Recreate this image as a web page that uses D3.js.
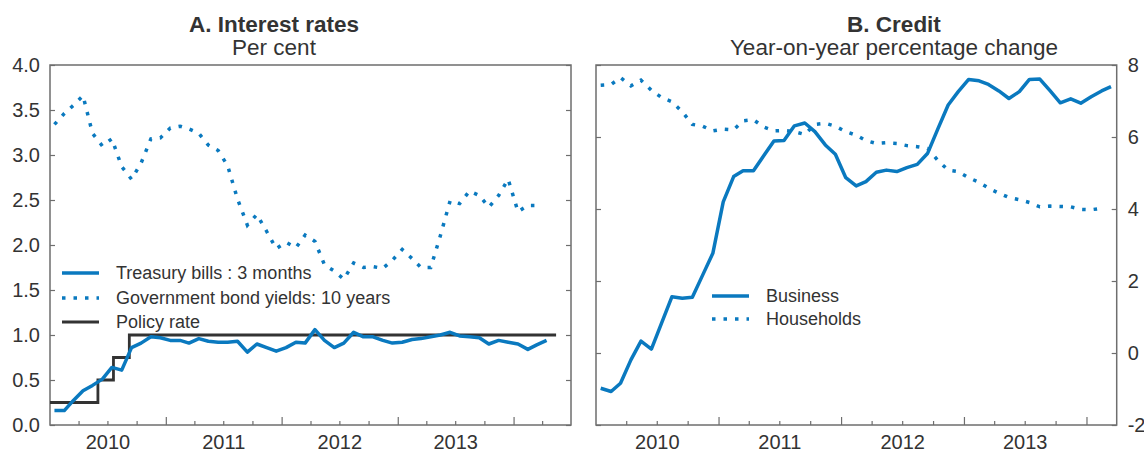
<!DOCTYPE html>
<html>
<head>
<meta charset="utf-8">
<script src="https://cdn.jsdelivr.net/npm/d3@7"></script>
<style>
  html, body { margin: 0; padding: 0; background: #fff; }
  svg { display: block; }
  text { font-family: "Liberation Sans", Arial, Helvetica, sans-serif; fill: #333; }
</style>
</head>
<body>
<svg id="chart" width="1144" height="453"></svg>
<script>
// ---------- DATA ----------
const months = [
  "2010-01","2010-02","2010-03","2010-04","2010-05","2010-06","2010-07","2010-08","2010-09","2010-10","2010-11","2010-12",
  "2011-01","2011-02","2011-03","2011-04","2011-05","2011-06","2011-07","2011-08","2011-09","2011-10","2011-11","2011-12",
  "2012-01","2012-02","2012-03","2012-04","2012-05","2012-06","2012-07","2012-08","2012-09","2012-10","2012-11","2012-12",
  "2013-01","2013-02","2013-03","2013-04","2013-05","2013-06","2013-07","2013-08","2013-09","2013-10","2013-11","2013-12",
  "2014-01","2014-02","2014-03","2014-04"
];

// Panel A: Interest rates (per cent)
const treasuryBills = [0.16,0.16,0.27,0.38,0.44,0.51,0.64,0.61,0.86,0.91,
  0.98,0.97,0.94,0.94,0.91,0.96,0.93,0.92,0.92,0.93,
  0.81,0.90,0.86,0.82,0.86,0.92,0.91,1.06,0.94,0.86,
  0.91,1.03,0.98,0.98,0.94,0.91,0.92,0.95,0.96,0.98,
  1.00,1.03,0.99,0.98,0.97,0.90,0.94,0.92,0.90,0.84,
  0.89,0.94];
const bondYields10y = [3.34,3.46,3.55,3.66,3.24,3.10,3.18,2.87,2.73,2.91,
  3.18,3.19,3.30,3.32,3.29,3.24,3.11,3.05,2.88,2.51,
  2.22,2.34,2.15,1.96,2.03,1.97,2.11,2.04,1.78,1.71,
  1.62,1.80,1.75,1.76,1.74,1.83,1.95,1.85,1.75,1.75,
  2.10,2.49,2.46,2.60,2.55,2.42,2.55,2.73,2.37,2.44,
  2.44];
const policyDates = ["2010-01-01","2010-06-01","2010-07-20","2010-09-08","2014-05-15"];
const policyRate = [0.25,0.50,0.75,1.00,1.00];

// Panel B: Credit (year-on-year % change)
const business = [-0.98,-1.07,-0.84,-0.19,0.33,0.11,0.82,1.56,1.52,1.55,
  2.17,2.77,4.20,4.90,5.06,5.06,5.47,5.89,5.90,6.31,
  6.39,6.15,5.78,5.52,4.87,4.64,4.76,5.02,5.08,5.04,
  5.15,5.24,5.55,6.22,6.89,7.26,7.60,7.56,7.46,7.28,
  7.07,7.26,7.60,7.61,7.28,6.95,7.06,6.94,7.12,7.28,
  7.40];
const households = [7.44,7.46,7.65,7.42,7.58,7.30,7.10,6.98,6.70,6.35,
  6.30,6.17,6.22,6.20,6.45,6.48,6.28,6.17,6.18,6.15,
  6.07,6.35,6.38,6.30,6.15,6.05,5.90,5.82,5.84,5.82,
  5.76,5.73,5.68,5.35,5.08,5.04,4.87,4.74,4.58,4.44,
  4.32,4.26,4.18,4.06,4.08,4.07,4.06,3.99,3.98,4.02];

const yearLabels = ["2010","2011","2012","2013"];
const yTicksA = [0,0.5,1,1.5,2,2.5,3,3.5,4];
const yTicksB = [-2,0,2,4,6,8];

const titlesA = ["A. Interest rates","Per cent"];
const titlesB = ["B. Credit","Year-on-year percentage change"];
const legendA = ["Treasury bills : 3 months","Government bond yields: 10 years","Policy rate"];
const legendB = ["Business","Households"];

// ---------- STYLE ----------
const BLUE = "#0a79bf";
const DARK = "#333333";
const BOX = "#6e6e6e";
const DOT = "3.5,8";
const TICK_FONT = 20;
const TITLE_FONT = 22.5;

const parseM = d3.timeParse("%Y-%m");
const parseD = d3.timeParse("%Y-%m-%d");
const midMonth = s => { const d = parseM(s); d.setDate(15); return d; };

const svg = d3.select("#chart");

function panel(cfg) {
  const g = svg.append("g");
  const x = d3.scaleTime().domain(cfg.xDomain).range([cfg.left, cfg.right]);
  const y = d3.scaleLinear().domain(cfg.yDomain).range([cfg.bottom, cfg.top]);

  const quarters = d3.timeMonth.every(3).range(cfg.xDomain[0], cfg.xDomain[1]).filter(d => d.getMonth() !== 0);
  const years = d3.timeYear.range(d3.timeDay.offset(cfg.xDomain[0], 1), cfg.xDomain[1]);
  g.append("g").attr("transform", `translate(0,${cfg.bottom})`)
    .call(d3.axisBottom(x).tickValues(quarters).tickSize(-4).tickFormat(""))
    .call(a => a.select(".domain").remove())
    .call(a => a.selectAll("line").attr("stroke", BOX).attr("stroke-width", 1.2));
  g.append("g").attr("transform", `translate(0,${cfg.bottom})`)
    .call(d3.axisBottom(x).tickValues(years).tickSize(-8).tickFormat(""))
    .call(a => a.select(".domain").remove())
    .call(a => a.selectAll("line").attr("stroke", BOX).attr("stroke-width", 1.2));
  const labelDates = yearLabels.map(s => parseD(s + "-07-01"));
  g.append("g").attr("transform", `translate(0,${cfg.bottom})`)
    .call(d3.axisBottom(x).tickValues(labelDates).tickSize(0).tickPadding(10).tickFormat((d, i) => yearLabels[i]))
    .call(a => a.select(".domain").remove())
    .call(a => a.selectAll("text").attr("font-size", TICK_FONT).attr("fill", DARK).attr("font-family", null));

  const leftAx = d3.axisLeft(y).tickValues(cfg.yTicks).tickSize(-5).tickPadding(10)
    .tickFormat(cfg.labelsLeft ? cfg.fmt : "");
  const rightAx = d3.axisRight(y).tickValues(cfg.yTicks).tickSize(-5).tickPadding(11)
    .tickFormat(cfg.labelsLeft ? "" : cfg.fmt);
  g.append("g").attr("transform", `translate(${cfg.left},0)`).call(leftAx)
    .call(a => a.select(".domain").remove())
    .call(a => a.selectAll("line").attr("stroke", BOX).attr("stroke-width", 1.2))
    .call(a => a.selectAll("text").attr("font-size", TICK_FONT).attr("fill", DARK).attr("font-family", null));
  g.append("g").attr("transform", `translate(${cfg.right},0)`).call(rightAx)
    .call(a => a.select(".domain").remove())
    .call(a => a.selectAll("line").attr("stroke", BOX).attr("stroke-width", 1.2))
    .call(a => a.selectAll("text").attr("font-size", TICK_FONT).attr("fill", DARK).attr("font-family", null));

  g.append("rect").attr("x", cfg.left).attr("y", cfg.top)
    .attr("width", cfg.right - cfg.left).attr("height", cfg.bottom - cfg.top)
    .attr("fill", "none").attr("stroke", BOX).attr("stroke-width", 1.5);

  g.append("text").attr("x", cfg.titleX).attr("y", 32).attr("text-anchor", "middle")
    .attr("font-size", TITLE_FONT).attr("font-weight", "bold").text(cfg.titles[0]);
  g.append("text").attr("x", cfg.titleX).attr("y", 55).attr("text-anchor", "middle")
    .attr("font-size", TITLE_FONT).text(cfg.titles[1]);

  return { g, x, y };
}

// ---------- PANEL A ----------
const A = panel({
  left: 50, right: 571, top: 65, bottom: 425,
  xDomain: [parseD("2010-01-01"), parseD("2014-07-01")],
  yDomain: [0, 4], yTicks: yTicksA, labelsLeft: true, fmt: d3.format(".1f"),
  titleX: 274, titles: titlesA
});
const lineA = d3.line().x(d => A.x(d.date)).y(d => A.y(d.value));

A.g.append("path")
  .datum(bondYields10y.map((v, i) => ({ date: midMonth(months[i]), value: v })))
  .attr("d", lineA).attr("fill", "none").attr("stroke", BLUE)
  .attr("stroke-width", 3.5).attr("stroke-dasharray", DOT);

A.g.append("path")
  .datum(policyRate.map((v, i) => ({ date: parseD(policyDates[i]), value: v })))
  .attr("d", d3.line().curve(d3.curveStepAfter).x(d => A.x(d.date)).y(d => A.y(d.value)))
  .attr("fill", "none").attr("stroke", DARK).attr("stroke-width", 2.8);

A.g.append("path")
  .datum(treasuryBills.map((v, i) => ({ date: midMonth(months[i]), value: v })))
  .attr("d", lineA).attr("fill", "none").attr("stroke", BLUE)
  .attr("stroke-width", 3.5).attr("stroke-linejoin", "round");

const legA = [
  { text: legendA[0], color: BLUE, dash: null, w: 3.5 },
  { text: legendA[1], color: BLUE, dash: DOT, w: 3.5 },
  { text: legendA[2], color: DARK, dash: null, w: 2.8 }
];
const legAy = [273, 298, 322];
legA.forEach((d, i) => {
  A.g.append("line").attr("x1", 62).attr("x2", 99).attr("y1", legAy[i]).attr("y2", legAy[i])
    .attr("stroke", d.color).attr("stroke-width", d.w).attr("stroke-dasharray", d.dash);
  A.g.append("text").attr("x", 116).attr("y", legAy[i]).attr("dy", "0.35em")
    .attr("font-size", 18).text(d.text);
});

// ---------- PANEL B ----------
const B = panel({
  left: 596, right: 1116.7, top: 65, bottom: 425,
  xDomain: [parseD("2010-01-01"), parseD("2014-04-01")],
  yDomain: [-2, 8], yTicks: yTicksB, labelsLeft: false, fmt: d => String(d),
  titleX: 894, titles: titlesB
});
const lineB = d3.line().x(d => B.x(d.date)).y(d => B.y(d.value));

B.g.append("path")
  .datum(households.map((v, i) => ({ date: midMonth(months[i]), value: v })))
  .attr("d", lineB).attr("fill", "none").attr("stroke", BLUE)
  .attr("stroke-width", 3.5).attr("stroke-dasharray", DOT);

B.g.append("path")
  .datum(business.map((v, i) => ({ date: midMonth(months[i]), value: v })))
  .attr("d", lineB).attr("fill", "none").attr("stroke", BLUE)
  .attr("stroke-width", 3.5).attr("stroke-linejoin", "round");

const legB = [
  { text: legendB[0], dash: null },
  { text: legendB[1], dash: DOT }
];
const legBy = [296, 319];
legB.forEach((d, i) => {
  B.g.append("line").attr("x1", 712).attr("x2", 749).attr("y1", legBy[i]).attr("y2", legBy[i])
    .attr("stroke", BLUE).attr("stroke-width", 3.5).attr("stroke-dasharray", d.dash);
  B.g.append("text").attr("x", 766).attr("y", legBy[i]).attr("dy", "0.35em")
    .attr("font-size", 18).text(d.text);
});
</script>
</body>
</html>
